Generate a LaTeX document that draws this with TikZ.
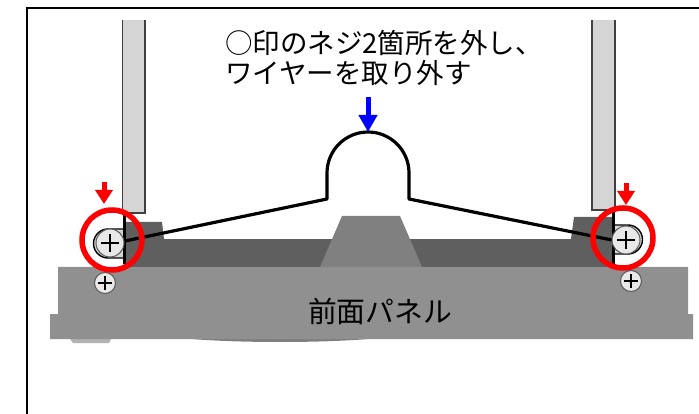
\documentclass[tikz,border=0pt]{standalone}
\usepackage{fontspec}
\setmainfont{Noto Sans CJK JP}
\usetikzlibrary{arrows.meta}
\definecolor{panelgray}{HTML}{909090}
\definecolor{banddark}{HTML}{5F5F5F}
\definecolor{bumpgray}{HTML}{808080}
\definecolor{platelight}{HTML}{D5D5D5}
\definecolor{screwlight}{HTML}{E8E8E8}
\newcommand{\makescrew}[3]{
    \draw[fill=screwlight,draw=black!65,line width=1pt] (#1,#2) circle (#3);
    \draw[black,line width=1.8pt] (#1-0.62*#3,#2) -- (#1+0.62*#3,#2);
    \draw[black,line width=1.8pt] (#1,#2-0.62*#3) -- (#1,#2+0.62*#3);
}

\begin{document}
\begin{tikzpicture}[x=1pt,y=-1pt]

\tikzstyle{plate}=[fill=platelight,draw=black!75,line width=1.2pt]
\tikzstyle{wire}=[black,line width=3.2pt,line join=round]
\tikzstyle{redarrow}=[red,line width=5pt,-{Triangle[width=17pt,length=14pt]}]
\tikzstyle{bluearrow}=[blue,line width=5pt,-{Triangle[width=18pt,length=17pt]}]
\tikzstyle{caption}=[inner sep=0pt,align=left,font=\fontsize{27.5pt}{30pt}\selectfont]

\useasboundingbox (0,0) rectangle (699,414);

% outer frame
\draw[black,line width=2pt] (26.5,414) -- (26.5,8) -- (699,8);

% panel
\fill[black!30] (70,339) -- (73,343) -- (109,343) -- (111,339) -- cycle;
\fill[banddark!80] (192,339) .. controls (240,343) and (320,343) .. (368,339) -- cycle;
\fill[panelgray] (58,267) -- (688,267) -- (688,314) -- (693,314) -- (693,339) -- (50,339) -- (50,314) -- (58,314) -- cycle;

% band and tabs
\fill[banddark] (124,239) rectangle (613,267);
\fill[banddark] (124,222) -- (162,222) -- (164,239) -- (124,239) -- cycle;
\fill[banddark] (574,217) -- (613,217) -- (613,239) -- (571,239) -- cycle;
\fill[bumpgray] (342,216) -- (400,216) -- (422,267) -- (320,267) -- cycle;

% side plates
\fill[platelight] (122.5,20) rectangle (145,213);
\draw[plate] (122.5,20) -- (122.5,213) -- (145,213) -- (145,20);
\fill[platelight] (592,20) rectangle (615,210);
\draw[plate] (592,20) -- (592,210) -- (615,210) -- (615,20);

% brackets
\draw[black,line width=1.4pt,fill=platelight] (124,229) -- (108,229) arc (270:90:14.5) -- (124,258);
\draw[black,line width=1.4pt,fill=platelight] (613,225) -- (628,225) arc (270:450:14.5) -- (613,254);
\draw[black,line width=3pt] (124,213) -- (124,264);
\draw[black,line width=3pt] (613,210) -- (613,265);

% wire
\draw[wire] (125,241) -- (327,199) -- (327,173) arc (180:360:41) -- (409,199) -- (612,240);

% screws
\makescrew{110}{243}{14}
\makescrew{626}{240}{14}
\makescrew{105}{283}{10.5}
\makescrew{631}{281}{10.5}

% red marks
\draw[red,line width=5.5pt] (112,240) circle (30);
\draw[red,line width=5.5pt] (623,238) circle (30);

% arrows
\coordinate (leftTop) at (104,182);
\coordinate (leftTip) at (104,204);
\coordinate (rightTop) at (626,183);
\coordinate (rightTip) at (626,205);
\coordinate (wireTop) at (368,97);
\coordinate (wireTip) at (368,132);
\draw[redarrow] (leftTop) -- (leftTip);
\draw[redarrow] (rightTop) -- (rightTip);
\draw[bluearrow] (wireTop) -- (wireTip);

% labels
\node[caption,anchor=north west] (note) at (225,30) {○印のネジ2箇所を外し、\\ワイヤーを取り外す};
\node[inner sep=0pt,font=\fontsize{28.8pt}{30pt}\selectfont] (panel) at (380,311) {前面パネル};
\end{tikzpicture}
\end{document}
